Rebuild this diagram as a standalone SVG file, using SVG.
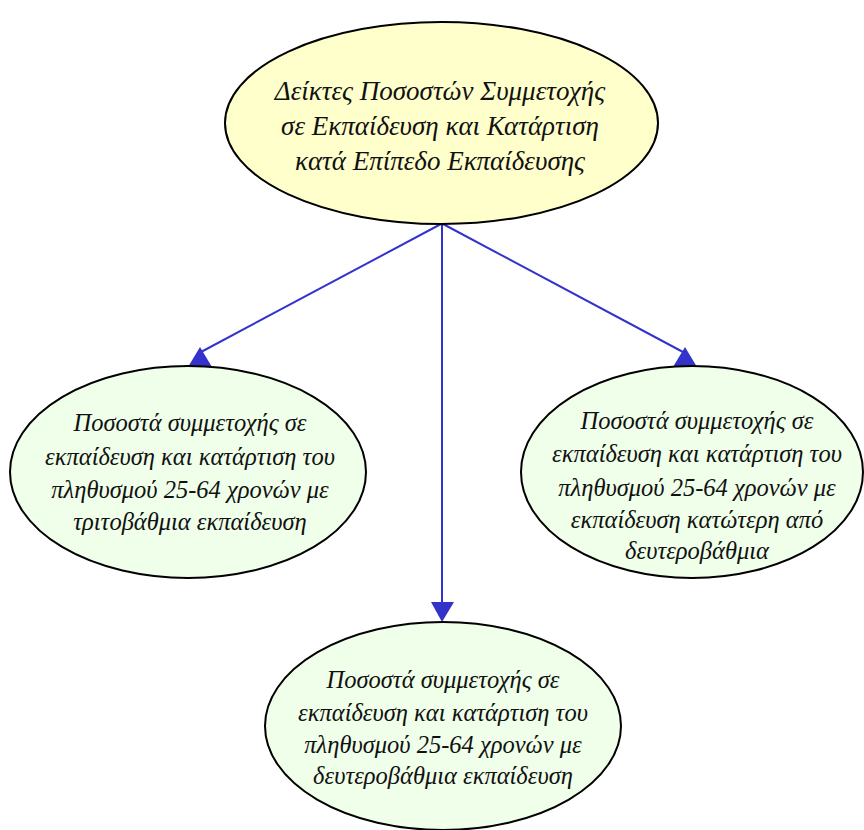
<svg xmlns="http://www.w3.org/2000/svg" width="864" height="830" viewBox="0 0 864 830">
<style>
.node ellipse{stroke:#000;stroke-width:2}
.root ellipse{fill:#ffffcc}
.leaf ellipse{fill:#efffe9}
text{font-family:"Liberation Serif","DejaVu Serif",serif;font-style:italic;fill:#111;text-anchor:middle}
.root text{font-size:27px}
.leaf text{font-size:24.5px}
.edge line{stroke:#3333cc;stroke-width:2}
.edge polygon{fill:#3333cc}
</style>
<rect width="864" height="830" fill="#fff"/>
<g id="connectors" class="edge">
<line x1="441" y1="224" x2="201" y2="352"/>
<polygon points="200,347 188,367 212,367"/>
<line x1="442" y1="224" x2="442" y2="606"/>
<polygon points="431,602 454,602 442,622"/>
<line x1="443" y1="224" x2="683" y2="352"/>
<polygon points="685,347 673,367 697,367"/>
</g>
<g id="root" class="node root">
<ellipse cx="441.5" cy="123" rx="216.5" ry="101"/>
<text x="440" y="100">Δείκτες Ποσοστών Συμμετοχής</text>
<text x="440" y="135">σε Εκπαίδευση και Κατάρτιση</text>
<text x="440" y="170">κατά Επίπεδο Εκπαίδευσης</text>
</g>
<g id="tertiary" class="node leaf">
<ellipse cx="188" cy="472" rx="178" ry="106"/>
<text x="190" y="431">Ποσοστά συμμετοχής σε</text>
<text x="190" y="465">εκπαίδευση και κατάρτιση του</text>
<text x="190" y="498">πληθυσμού 25-64 χρονών με</text>
<text x="190" y="530">τριτοβάθμια εκπαίδευση</text>
</g>
<g id="lower" class="node leaf">
<ellipse cx="692" cy="472" rx="171" ry="106"/>
<text x="697" y="429">Ποσοστά συμμετοχής σε</text>
<text x="697" y="462">εκπαίδευση και κατάρτιση του</text>
<text x="697" y="496">πληθυσμού 25-64 χρονών με</text>
<text x="697" y="528">εκπαίδευση κατώτερη από</text>
<text x="697" y="559">δευτεροβάθμια</text>
</g>
<g id="secondary" class="node leaf">
<ellipse cx="443" cy="726" rx="178" ry="104"/>
<text x="443" y="688">Ποσοστά συμμετοχής σε</text>
<text x="443" y="721">εκπαίδευση και κατάρτιση του</text>
<text x="443" y="753">πληθυσμού 25-64 χρονών με</text>
<text x="443" y="784">δευτεροβάθμια εκπαίδευση</text>
</g>
</svg>
